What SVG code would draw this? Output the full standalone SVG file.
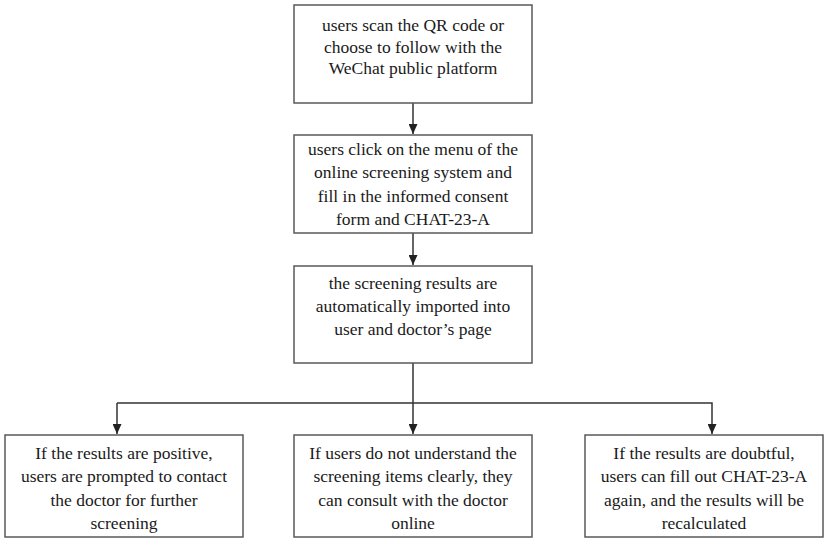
<svg xmlns="http://www.w3.org/2000/svg" width="829" height="546" viewBox="0 0 829 546">
<style>
.box{fill:#fff;stroke:#595959;stroke-width:1.5}
.t{font-family:"Liberation Serif","Times New Roman",serif;font-size:17.5px;fill:#1a1a1a;text-anchor:middle}
.c{fill:none;stroke:#333;stroke-width:1.5}
</style>
<defs>
<marker id="ah" markerWidth="10" markerHeight="9" refX="10" refY="4.5" orient="auto" markerUnits="userSpaceOnUse">
<path d="M0,0 L10,4.5 L0,9 z" fill="#222"/>
</marker>
</defs>
<rect width="829" height="546" fill="#fff"/>
<g id="connectors">
<line class="c" x1="413" y1="103" x2="413" y2="134" marker-end="url(#ah)"/>
<line class="c" x1="413" y1="233" x2="413" y2="265" marker-end="url(#ah)"/>
<line class="c" x1="413" y1="363" x2="413" y2="434" marker-end="url(#ah)"/>
<polyline class="c" points="117,403 712,403 712,434" marker-end="url(#ah)"/>
<line class="c" x1="117" y1="403" x2="117" y2="434" marker-end="url(#ah)"/>
</g>
<g id="n1">
<rect class="box" x="294" y="5" width="238" height="98"/>
<text class="t" x="413" y="31">users scan the QR code or</text>
<text class="t" x="413" y="53">choose to follow with the</text>
<text class="t" x="413" y="74">WeChat public platform</text>
</g>
<g id="n2">
<rect class="box" x="294" y="135" width="238" height="98"/>
<text class="t" x="413" y="155">users click on the menu of the</text>
<text class="t" x="413" y="178">online screening system and</text>
<text class="t" x="413" y="202">fill in the informed consent</text>
<text class="t" x="413" y="225">form and CHAT-23-A</text>
</g>
<g id="n3">
<rect class="box" x="294" y="266" width="238" height="97"/>
<text class="t" x="413" y="289">the screening results are</text>
<text class="t" x="413" y="312">automatically imported into</text>
<text class="t" x="413" y="335">user and doctor’s page</text>
</g>
<g id="n4">
<rect class="box" x="5" y="435" width="238" height="102"/>
<text class="t" x="124" y="459">If the results are positive,</text>
<text class="t" x="124" y="482">users are prompted to contact</text>
<text class="t" x="124" y="506">the doctor for further</text>
<text class="t" x="124" y="529">screening</text>
</g>
<g id="n5">
<rect class="box" x="294" y="435" width="238" height="102"/>
<text class="t" x="413" y="459">If users do not understand the</text>
<text class="t" x="413" y="482">screening items clearly, they</text>
<text class="t" x="413" y="506">can consult with the doctor</text>
<text class="t" x="413" y="529">online</text>
</g>
<g id="n6">
<rect class="box" x="585" y="435" width="238" height="102"/>
<text class="t" x="704" y="459">If the results are doubtful,</text>
<text class="t" x="704" y="482">users can fill out CHAT-23-A</text>
<text class="t" x="704" y="506">again, and the results will be</text>
<text class="t" x="704" y="529">recalculated</text>
</g>
</svg>
